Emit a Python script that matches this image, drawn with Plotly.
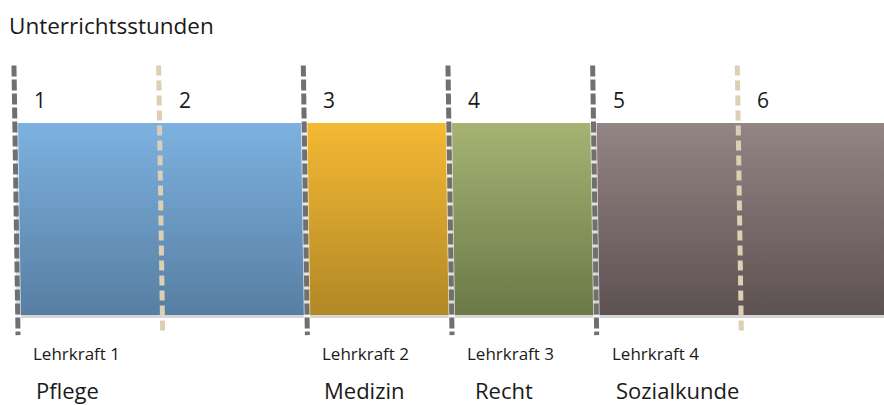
import plotly.graph_objects as go

# Stundenplan: sechs Unterrichtsstunden, vier Fächer mit je einer Lehrkraft
stunden = ["1", "2", "3", "4", "5", "6"]
faecher = ["Pflege", "Medizin", "Recht", "Sozialkunde"]
lehrkraefte = ["Lehrkraft 1", "Lehrkraft 2", "Lehrkraft 3", "Lehrkraft 4"]
fach_beginn = [0, 2, 3, 4]          # Stundenbeginn jedes Fachs
fach_ende = [2, 3, 4, 6.2]          # Stundenende (letztes läuft weiter)
grenzen = [0, 1, 2, 3, 4, 5]        # Stundengrenzen
wechsel = [True, False, True, True, True, False]  # Lehrkraftwechsel an der Grenze

# Farbverläufe (oben, unten) je Fach
farben = [
    ("#7DB2E0", "#577EA2"),
    ("#F4B934", "#B18826"),
    ("#A6B374", "#6A7947"),
    ("#938584", "#5E5151"),
]

BAND_UNTEN, BAND_OBEN = 0.0, 1.0
LINIE_UNTEN, LINIE_OBEN = -0.105, 1.30
NEIGUNG = 0.014

fig = go.Figure()

# leichter Schatten unter dem Band
fig.add_trace(go.Scatter(
    x=[fach_beginn[0], fach_ende[-1]], y=[BAND_UNTEN, BAND_UNTEN],
    mode="lines", line=dict(color="#D6D6D6", width=6),
    hoverinfo="skip", showlegend=False,
))

for fach, a, b, (oben, unten) in zip(faecher, fach_beginn, fach_ende, farben):
    fig.add_trace(go.Scatter(
        x=[a, b, b, a, a],
        y=[BAND_UNTEN, BAND_UNTEN, BAND_OBEN, BAND_OBEN, BAND_UNTEN],
        mode="lines", line=dict(width=0, color=oben),
        fill="toself",
        fillgradient=dict(
            type="vertical",
            colorscale=[[0, unten], [1, oben]],
            start=BAND_UNTEN, stop=BAND_OBEN,
        ),
        name=fach, hoverinfo="name", showlegend=False,
    ))

# gestrichelte Stundengrenzen
for g, w in zip(grenzen, wechsel):
    xs = [g - NEIGUNG, g + NEIGUNG]
    ys = [LINIE_OBEN, LINIE_UNTEN]
    if w:
        fig.add_trace(go.Scatter(
            x=xs, y=ys, mode="lines",
            line=dict(color="rgba(255,255,255,0.75)", width=6.5),
            hoverinfo="skip", showlegend=False,
        ))
        fig.add_trace(go.Scatter(
            x=xs, y=ys, mode="lines",
            line=dict(color="#707070", width=5, dash="11px,3px"),
            hoverinfo="skip", showlegend=False,
        ))
    else:
        fig.add_trace(go.Scatter(
            x=xs, y=ys, mode="lines",
            line=dict(color="#DCCFB3", width=5, dash="10px,5px"),
            hoverinfo="skip", showlegend=False,
        ))

FONT = "Open Sans"
TEXT = "#1A1A1A"
annotations = []

# Stundennummern
for s, g in zip(stunden, grenzen):
    annotations.append(dict(
        x=g, y=1.12, xref="x", yref="y", text=s, showarrow=False,
        xanchor="left", yanchor="middle", xshift=16,
        font=dict(family=FONT, size=21, color=TEXT),
    ))

# Lehrkräfte und Fächer
for lk, a in zip(lehrkraefte, fach_beginn):
    annotations.append(dict(
        x=a, y=-0.2, xref="x", yref="y", text=lk, showarrow=False,
        xanchor="left", yanchor="middle", xshift=15,
        font=dict(family=FONT, size=17, color=TEXT),
    ))
for fach, a, dx in zip(faecher, fach_beginn, [18, 17, 23, 19]):
    annotations.append(dict(
        x=a, y=-0.39, xref="x", yref="y", text=fach, showarrow=False,
        xanchor="left", yanchor="middle", xshift=dx,
        font=dict(family=FONT, size=22, color=TEXT),
    ))

# Überschrift
annotations.append(dict(
    x=0, y=1, xref="paper", yref="paper", text="Unterrichtsstunden",
    showarrow=False, xanchor="left", yanchor="middle", xshift=7, yshift=-25,
    font=dict(family=FONT, size=22.5, color=TEXT),
))

fig.update_layout(
    width=884, height=405,
    margin=dict(l=0, r=0, t=0, b=0),
    paper_bgcolor="white", plot_bgcolor="white",
    xaxis=dict(range=[-0.1106, 6.0], visible=False, fixedrange=True),
    yaxis=dict(range=[-0.469, 1.641], visible=False, fixedrange=True),
    annotations=annotations,
    showlegend=False,
)

fig.write_html("out.html")
